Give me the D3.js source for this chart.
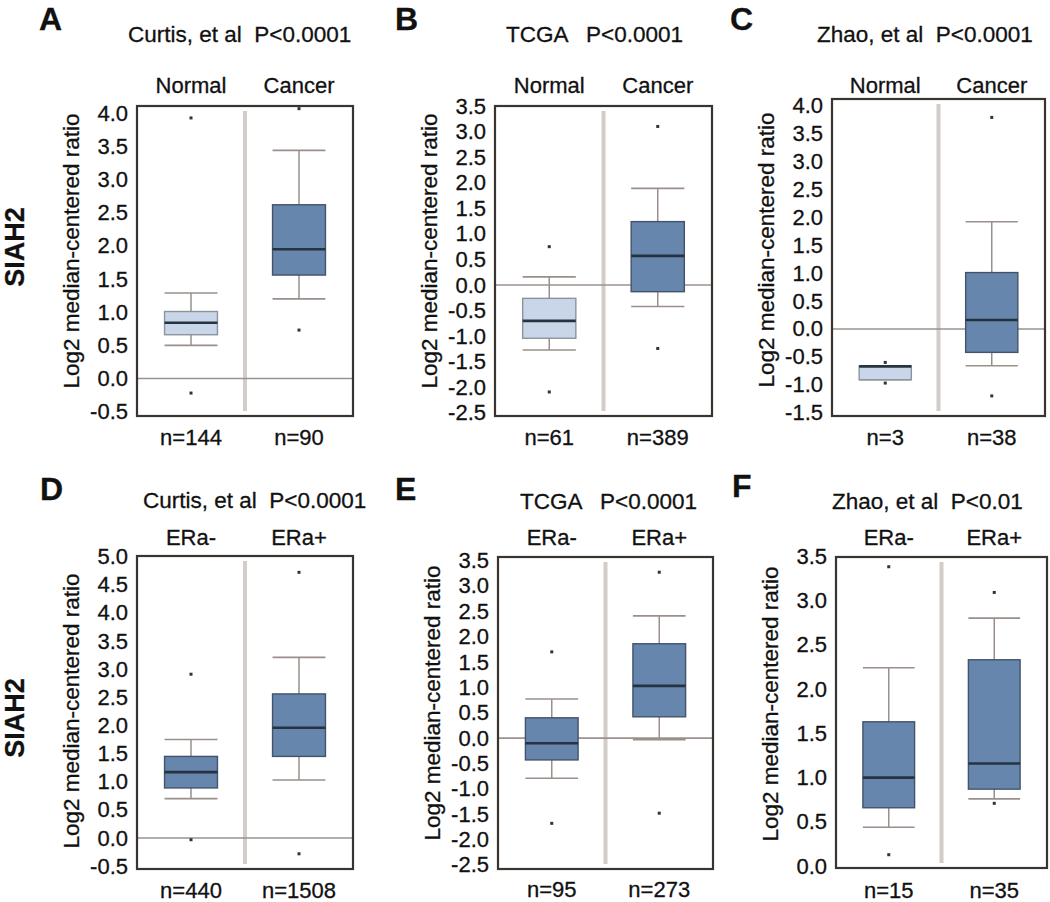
<!DOCTYPE html>
<html>
<head>
<meta charset="utf-8">
<script src="https://cdn.jsdelivr.net/npm/d3@7"></script>
<style>
  body { margin: 0; background: #fff; }
  text { font-family: "Liberation Sans", Arial, sans-serif; fill: #111; stroke: #111; stroke-width: 0.3px; }
</style>
</head>
<body>
<svg width="1050" height="902"></svg>
<script>
// panel labels, datasets and groups
const letters = ["A", "B", "C", "D", "E", "F"];
const titles = [
  "Curtis, et al  P<0.0001",
  "TCGA   P<0.0001",
  "Zhao, et al  P<0.0001",
  "Curtis, et al  P<0.0001",
  "TCGA   P<0.0001",
  "Zhao, et al  P<0.01"
];
const groupsTissue = ["Normal", "Cancer"];
const groupsER = ["ERa-", "ERa+"];
const counts = [[144, 90], [61, 389], [3, 38], [440, 1508], [95, 273], [15, 35]];

// box summaries per group: [whisker low, q1, median, q3, whisker high]
const boxA = [[0.50, 0.66, 0.84, 1.01, 1.29], [1.20, 1.56, 1.95, 2.62, 3.44]];
const boxB = [[-1.27, -1.04, -0.70, -0.26, 0.16], [-0.42, -0.13, 0.57, 1.24, 1.89]];
const boxC = [[-0.91, -0.91, -0.67, -0.66, -0.66], [-0.66, -0.42, 0.16, 1.01, 1.92]];
const boxD = [[0.70, 0.89, 1.17, 1.45, 1.75], [1.03, 1.45, 1.96, 2.56, 3.21]];
const boxE = [[-0.79, -0.43, -0.10, 0.40, 0.77], [-0.03, 0.42, 1.03, 1.86, 2.41]];
const boxF = [[0.44, 0.66, 1.00, 1.63, 2.24], [0.76, 0.87, 1.16, 2.33, 2.80]];

// outliers per group
const outA = [[3.93, -0.22], [4.07, 0.73]];
const outB = [[0.75, -2.09], [3.10, -1.24]];
const outC = [[-0.60, -0.97], [3.79, -1.20]];
const outD = [[2.91, -0.03], [4.72, -0.28]];
const outE = [[1.70, -1.68], [3.27, -1.48]];
const outF = [[3.38, 0.13], [3.09, 0.71]];

// y tick labels
const ticksA = [-0.5, 0, 0.5, 1, 1.5, 2, 2.5, 3, 3.5, 4];
const ticksB = [-2.5, -2, -1.5, -1, -0.5, 0, 0.5, 1, 1.5, 2, 2.5, 3, 3.5];
const ticksC = [-1.5, -1, -0.5, 0, 0.5, 1, 1.5, 2, 2.5, 3, 3.5, 4];
const ticksD = [-0.5, 0, 0.5, 1, 1.5, 2, 2.5, 3, 3.5, 4, 4.5, 5];
const ticksE = [-2.5, -2, -1.5, -1, -0.5, 0, 0.5, 1, 1.5, 2, 2.5, 3, 3.5];
const ticksF = [0, 0.5, 1, 1.5, 2, 2.5, 3, 3.5];

// layout of each panel (frame box, y extent, text spots)
const layout = [
  { x0: 137, x1: 353, y0: 106, y1: 416, lo: -0.566, hi: 4.11, tx: 128, ty: 42, cy: 93, ny: 445, lx: 39, ly: 30, ay: 251 },
  { x0: 495, x1: 712, y0: 106, y1: 416, lo: -2.56, hi: 3.5, tx: 506, ty: 42, cy: 93, ny: 445, lx: 395, ly: 30, ay: 251 },
  { x0: 832, x1: 1045, y0: 99, y1: 416, lo: -1.56, hi: 4.12, tx: 817, ty: 42, cy: 93, ny: 445, lx: 730, ly: 30, ay: 250 },
  { x0: 137, x1: 353, y0: 556, y1: 869, lo: -0.55, hi: 5.01, tx: 143, ty: 508, cy: 545, ny: 898, lx: 40, ly: 500, ay: 711 },
  { x0: 498, x1: 713, y0: 557, y1: 869, lo: -2.58, hi: 3.57, tx: 520, ty: 509, cy: 545, ny: 897, lx: 395, ly: 500, ay: 703 },
  { x0: 836, x1: 1047, y0: 557, y1: 868, lo: -0.02, hi: 3.49, tx: 832, ty: 509, cy: 545, ny: 898, lx: 732, ly: 497, ay: 704 }
];

const boxes = [boxA, boxB, boxC, boxD, boxE, boxF];
const outliers = [outA, outB, outC, outD, outE, outF];
const ticks = [ticksA, ticksB, ticksC, ticksD, ticksE, ticksF];

const svg = d3.select("svg");
svg.append("rect").attr("width", 1050).attr("height", 902).style("fill", "#fff");

// gene name on the left of each row
[247, 718].forEach(function(cy) {
  svg.append("text")
    .attr("transform", "translate(15," + cy + ") rotate(-90)")
    .attr("text-anchor", "middle")
    .attr("dominant-baseline", "central")
    .style("font-size", "27px")
    .style("font-weight", "bold")
    .text("SIAH2");
});

layout.forEach(function(L, i) {
  const groups = i < 3 ? groupsTissue : groupsER;
  const g = svg.append("g");

  const x = d3.scalePoint().domain(groups).range([L.x0, L.x1]).padding(0.5);
  const y = d3.scaleLinear().domain([L.lo, L.hi]).range([L.y1, L.y0]);
  const bw = (L.x1 - L.x0) * 0.245;

  // panel letter and title
  g.append("text")
    .attr("x", L.lx).attr("y", L.ly)
    .style("font-size", "32px")
    .style("font-weight", "bold")
    .text(letters[i]);

  g.append("text")
    .attr("x", L.tx).attr("y", L.ty)
    .style("font-size", "22.5px")
    .style("white-space", "pre")
    .text(titles[i]);

  // group names above the frame, counts below it
  groups.forEach(function(name, j) {
    g.append("text")
      .attr("x", x(name)).attr("y", L.cy)
      .attr("text-anchor", "middle")
      .style("font-size", "22px")
      .text(name);
    g.append("text")
      .attr("x", x(name)).attr("y", L.ny)
      .attr("text-anchor", "middle")
      .style("font-size", "22px")
      .text("n=" + counts[i][j]);
  });

  // y axis
  const axis = d3.axisLeft(y)
    .tickValues(ticks[i])
    .tickSize(0)
    .tickPadding(9)
    .tickFormat(function(d) { return d.toFixed(1); });
  const ax = g.append("g")
    .attr("transform", "translate(" + L.x0 + ",0)")
    .call(axis);
  ax.select(".domain").remove();
  ax.selectAll("text")
    .style("font-size", "22px")
    .style("font-family", "'Liberation Sans', Arial, sans-serif")
    .attr("fill", "#111");

  g.append("text")
    .attr("transform", "translate(" + (L.x0 - 66) + "," + L.ay + ") rotate(-90)")
    .attr("text-anchor", "middle")
    .attr("dominant-baseline", "central")
    .style("font-size", "22.5px")
    .text("Log2 median-centered ratio");

  // divider between the two groups
  const xm = (L.x0 + L.x1) / 2;
  g.append("line")
    .attr("x1", xm).attr("x2", xm)
    .attr("y1", L.y0 + 5).attr("y2", L.y1 - 5)
    .style("stroke", "#d3ccc8")
    .style("stroke-width", "4px");

  // zero reference line
  if (L.lo < -0.1) {
    g.append("line")
      .attr("x1", L.x0).attr("x2", L.x1)
      .attr("y1", y(0)).attr("y2", y(0))
      .style("stroke", "#9b928d")
      .style("stroke-width", "1.6px");
  }

  groups.forEach(function(name, j) {
    const b = boxes[i][j];
    const cx = x(name);
    const light = i < 3 && j === 0;

    // whiskers and caps
    g.append("line")
      .attr("x1", cx).attr("x2", cx)
      .attr("y1", y(b[0])).attr("y2", y(b[4]))
      .style("stroke", "#9a8f8a")
      .style("stroke-width", "1.5px");
    [b[0], b[4]].forEach(function(v) {
      g.append("line")
        .attr("x1", cx - bw / 2).attr("x2", cx + bw / 2)
        .attr("y1", y(v)).attr("y2", y(v))
        .style("stroke", "#9a8f8a")
        .style("stroke-width", "1.6px");
    });

    g.append("rect")
      .attr("x", cx - bw / 2)
      .attr("y", y(b[3]))
      .attr("width", bw)
      .attr("height", y(b[1]) - y(b[3]))
      .style("fill", light ? "#c9d6e9" : "#6686ad")
      .style("stroke", light ? "#8c939c" : "#43536a")
      .style("stroke-width", "1.4px");

    g.append("line")
      .attr("x1", cx - bw / 2).attr("x2", cx + bw / 2)
      .attr("y1", y(b[2])).attr("y2", y(b[2]))
      .style("stroke", "#263340")
      .style("stroke-width", "2.6px");

    outliers[i][j].forEach(function(v) {
      g.append("rect")
        .attr("x", cx - 1.5).attr("y", y(v) - 1.5)
        .attr("width", 3).attr("height", 3)
        .style("fill", "#333");
    });
  });

  // frame
  g.append("rect")
    .attr("x", L.x0).attr("y", L.y0)
    .attr("width", L.x1 - L.x0).attr("height", L.y1 - L.y0)
    .style("fill", "none")
    .style("stroke", "#39342f")
    .style("stroke-width", "2.2px");
});
</script>
</body>
</html>
